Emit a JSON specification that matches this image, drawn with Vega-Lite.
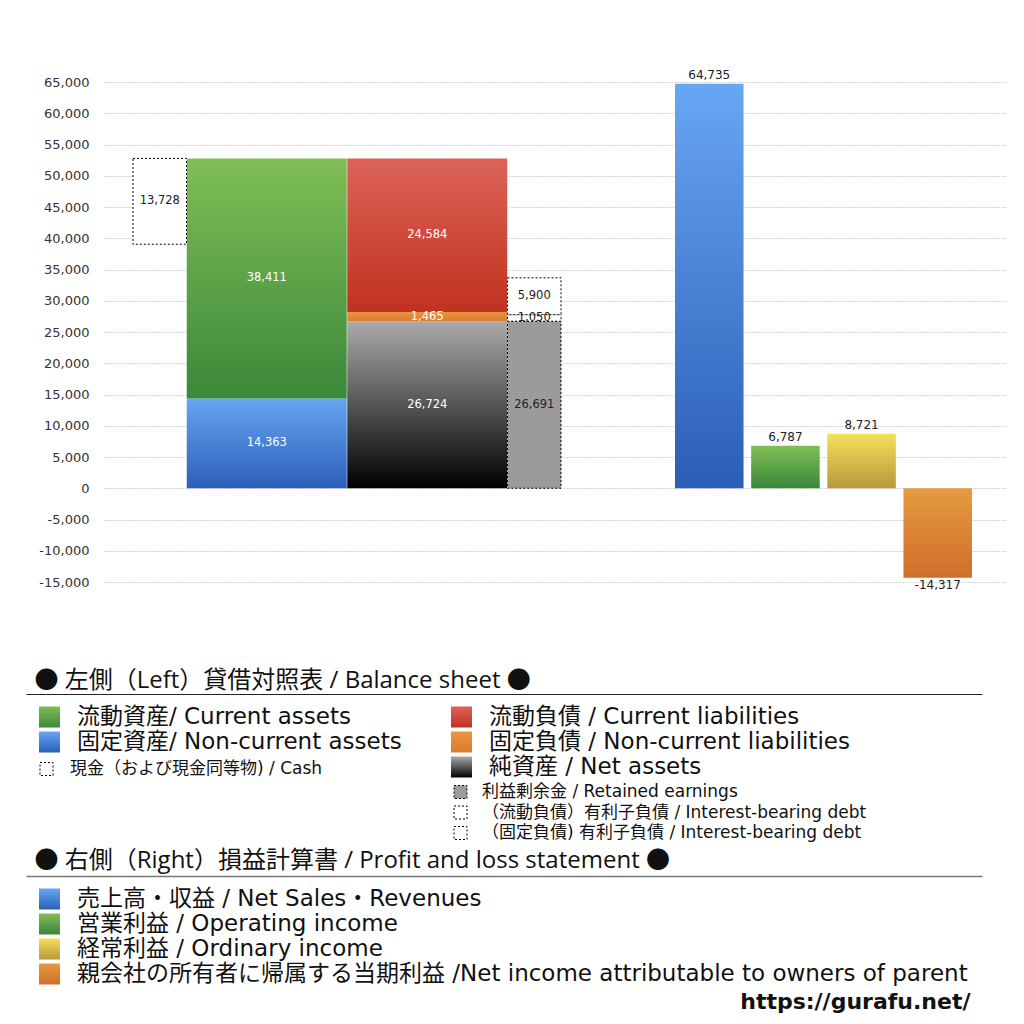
{
  "$schema": "https://vega.github.io/schema/vega-lite/v6.json",
  "width": 903,
  "height": 500,
  "autosize": {"type": "none"},
  "padding": {"left": 104, "top": 82, "right": 17, "bottom": 442},
  "background": "white",
  "config": {
    "font": "'DejaVu Sans', 'Noto Sans CJK JP'",
    "locale": {"number": {"decimal": ".", "thousands": ",", "grouping": [3], "currency": ["", ""], "minus": "-"}},
    "view": {"stroke": null},
    "axisY": {"tickCount": 16, "ticks": false, "domain": false, "labelPadding": 15, "labelFontSize": 13, "labelColor": "#333", "gridDash": [1, 2], "gridColor": "#aaa", "gridWidth": 1}
  },
  "datasets": {
    "bs": [
      {"col": "assets", "item": "固定資産/ Non-current assets", "lo": 0, "hi": 14363, "value": 14363},
      {"col": "assets", "item": "流動資産/ Current assets", "lo": 14363, "hi": 52774, "value": 38411},
      {"col": "liab", "item": "純資産 / Net assets", "lo": 0, "hi": 26724, "value": 26724},
      {"col": "liab", "item": "固定負債 / Non-current liabilities", "lo": 26724, "hi": 28189, "value": 1465},
      {"col": "liab", "item": "流動負債 /  Current liabilities", "lo": 28189, "hi": 52773, "value": 24584},
      {"col": "cash", "item": "現金（および現金同等物) / Cash", "lo": 39046, "hi": 52774, "value": 13728},
      {"col": "retained", "item": "利益剰余金 / Retained earnings", "lo": 0, "hi": 26691, "value": 26691},
      {"col": "retained", "item": "（固定負債) 有利子負債 / Interest-bearing debt", "lo": 26724, "hi": 27774, "value": 1050},
      {"col": "retained", "item": "（流動負債）有利子負債 / Interest-bearing debt", "lo": 27774, "hi": 33674, "value": 5900}
    ],
    "pl": [
      {"col": "sales", "item": "売上高・収益 / Net Sales・Revenues", "value": 64735},
      {"col": "op", "item": "営業利益 / Operating income", "value": 6787},
      {"col": "ord", "item": "経常利益 / Ordinary income", "value": 8721},
      {"col": "net", "item": "親会社の所有者に帰属する当期利益 /Net income attributable to owners of parent", "value": -14317}
    ]
  },
  "resolve": {"scale": {"x": "independent", "fill": "independent"}},
  "layer": [
    {
      "data": {"name": "pl"},
      "mark": {"type": "point", "opacity": 0},
      "encoding": {
        "x": {"field": "col", "type": "nominal", "axis": null, "scale": {"type": "point", "domain": ["sales", "op", "ord", "net"], "range": [0, 903]}},
        "y": {"field": "value", "type": "quantitative", "title": null, "scale": {"domain": [-15000, 65000], "nice": false, "zero": false}}
      }
    },
    {
      "data": {"name": "bs"},
      "transform": [{"filter": "datum.col === 'assets'"}],
      "mark": {"type": "bar", "width": 160},
      "encoding": {
        "x": {"field": "col", "type": "nominal", "axis": null, "scale": {"type": "band", "domain": ["cash", "s1", "assets", "s3", "s4", "liab", "s6", "retained"], "range": [29, 457], "paddingInner": 0, "paddingOuter": 0}},
        "y": {"field": "lo", "type": "quantitative", "title": null, "scale": {"domain": [-15000, 65000], "nice": false, "zero": false}},
        "y2": {"field": "hi"},
        "fill": {
          "field": "item", "type": "nominal",
          "scale": {
            "domain": ["流動資産/ Current assets", "固定資産/ Non-current assets"],
            "range": [
              {"signal": "{gradient: 'linear', x1: 0, y1: 0, x2: 0, y2: 1, stops: [{offset: 0, color: '#80be56'}, {offset: 1, color: '#3b883a'}]}"},
              {"signal": "{gradient: 'linear', x1: 0, y1: 0, x2: 0, y2: 1, stops: [{offset: 0, color: '#67a5f2'}, {offset: 1, color: '#2c5fb7'}]}"}
            ]
          },
          "legend": {"orient": "none", "legendX": -66, "legendY": 623.5, "direction": "vertical", "title": null, "padding": 0, "symbolType": "square", "symbolSize": 441, "symbolStrokeWidth": 0, "labelFontSize": 23, "labelOffset": 16, "labelLimit": 1000, "rowPadding": 1, "labelColor": "#111"}
        }
      }
    },
    {
      "data": {"name": "bs"},
      "transform": [{"filter": "datum.col === 'liab'"}],
      "mark": {"type": "bar", "width": 160},
      "encoding": {
        "x": {"field": "col", "type": "nominal", "axis": null, "scale": {"type": "band", "domain": ["cash", "s1", "assets", "s3", "s4", "liab", "s6", "retained"], "range": [29, 457], "paddingInner": 0, "paddingOuter": 0}},
        "y": {"field": "lo", "type": "quantitative", "title": null, "scale": {"domain": [-15000, 65000], "nice": false, "zero": false}},
        "y2": {"field": "hi"},
        "fill": {
          "field": "item", "type": "nominal",
          "scale": {
            "domain": ["流動負債 /  Current liabilities", "固定負債 / Non-current liabilities", "純資産 / Net assets"],
            "range": [
              {"signal": "{gradient: 'linear', x1: 0, y1: 0, x2: 0, y2: 1, stops: [{offset: 0, color: '#dd6358'}, {offset: 1, color: '#c0321f'}]}"},
              {"signal": "{gradient: 'linear', x1: 0, y1: 0, x2: 0, y2: 1, stops: [{offset: 0, color: '#ea9440'}, {offset: 1, color: '#dc7c2e'}]}"},
              {"signal": "{gradient: 'linear', x1: 0, y1: 0, x2: 0, y2: 1, stops: [{offset: 0, color: '#aaaaaa'}, {offset: 1, color: '#000000'}]}"}
            ]
          },
          "legend": {"orient": "none", "legendX": 346, "legendY": 623.5, "direction": "vertical", "title": null, "padding": 0, "symbolType": "square", "symbolSize": 441, "symbolStrokeWidth": 0, "labelFontSize": 23, "labelOffset": 16, "labelLimit": 1000, "rowPadding": 1, "labelColor": "#111"}
        }
      }
    },
    {
      "data": {"name": "bs"},
      "transform": [{"filter": "datum.col === 'cash'"}],
      "mark": {"type": "bar", "stroke": "#000", "strokeWidth": 1, "strokeDash": [2, 2]},
      "encoding": {
        "x": {"field": "col", "type": "nominal", "axis": null, "scale": {"type": "band", "domain": ["cash", "s1", "assets", "s3", "s4", "liab", "s6", "retained"], "range": [29, 457], "paddingInner": 0, "paddingOuter": 0}},
        "y": {"field": "lo", "type": "quantitative", "title": null, "scale": {"domain": [-15000, 65000], "nice": false, "zero": false}},
        "y2": {"field": "hi"},
        "fill": {
          "field": "item", "type": "nominal",
          "scale": {"domain": ["現金（および現金同等物) / Cash"], "range": ["white"]},
          "legend": {"orient": "none", "legendX": -66, "legendY": 678.5, "direction": "vertical", "title": null, "padding": 0, "symbolType": "square", "symbolSize": 169, "symbolStrokeColor": "#000", "symbolStrokeWidth": 1, "symbolDash": [2, 2], "labelFontSize": 17, "labelOffset": 15, "labelLimit": 1000, "labelColor": "#111"}
        }
      }
    },
    {
      "data": {"name": "bs"},
      "transform": [{"filter": "datum.col === 'retained'"}],
      "mark": {"type": "bar", "stroke": "#000", "strokeWidth": 1, "strokeDash": [2, 2]},
      "encoding": {
        "x": {"field": "col", "type": "nominal", "axis": null, "scale": {"type": "band", "domain": ["cash", "s1", "assets", "s3", "s4", "liab", "s6", "retained"], "range": [29, 457], "paddingInner": 0, "paddingOuter": 0}},
        "y": {"field": "lo", "type": "quantitative", "title": null, "scale": {"domain": [-15000, 65000], "nice": false, "zero": false}},
        "y2": {"field": "hi"},
        "fill": {
          "field": "item", "type": "nominal",
          "scale": {"domain": ["利益剰余金 / Retained earnings", "（流動負債）有利子負債 / Interest-bearing debt", "（固定負債) 有利子負債 / Interest-bearing debt"], "range": ["#9b9b9b", "white", "white"]},
          "legend": {"orient": "none", "legendX": 348, "legendY": 701.5, "direction": "vertical", "title": null, "padding": 0, "symbolType": "square", "symbolSize": 169, "symbolStrokeColor": "#000", "symbolStrokeWidth": 1, "symbolDash": [2, 2], "labelFontSize": 17, "labelOffset": 13, "labelLimit": 1000, "rowPadding": 2.5, "labelColor": "#111"}
        }
      }
    },
    {
      "data": {"name": "pl"},
      "mark": {"type": "bar"},
      "encoding": {
        "x": {
          "field": "col", "type": "nominal",
          "scale": {"type": "band", "domain": ["sales", "op", "ord", "net"], "range": [571, 868], "paddingInner": 0.1, "paddingOuter": 0},
          "axis": {"orient": "bottom", "domain": false, "labels": false, "ticks": false, "grid": false, "title": "https://gurafu.net/", "titleX": 866, "titleY": 419, "titleAlign": "right", "titleBaseline": "middle", "titleFontSize": 22, "titleFontWeight": "bold", "titleColor": "#111"}
        },
        "y": {"field": "value", "type": "quantitative", "title": null, "scale": {"domain": [-15000, 65000], "nice": false, "zero": false}},
        "fill": {
          "field": "item", "type": "nominal",
          "scale": {
            "domain": ["売上高・収益 / Net Sales・Revenues", "営業利益 / Operating income", "経常利益 / Ordinary income", "親会社の所有者に帰属する当期利益 /Net income attributable to owners of parent"],
            "range": [
              {"signal": "{gradient: 'linear', x1: 0, y1: 0, x2: 0, y2: 1, stops: [{offset: 0, color: '#68a6f3'}, {offset: 1, color: '#2b5eb6'}]}"},
              {"signal": "{gradient: 'linear', x1: 0, y1: 0, x2: 0, y2: 1, stops: [{offset: 0, color: '#80be56'}, {offset: 1, color: '#3a873a'}]}"},
              {"signal": "{gradient: 'linear', x1: 0, y1: 0, x2: 0, y2: 1, stops: [{offset: 0, color: '#f5e05a'}, {offset: 1, color: '#b7983a'}]}"},
              {"signal": "{gradient: 'linear', x1: 0, y1: 0, x2: 0, y2: 1, stops: [{offset: 0, color: '#e69b3f'}, {offset: 1, color: '#cf6e2b'}]}"}
            ]
          },
          "legend": {"orient": "none", "legendX": -66, "legendY": 805.5, "direction": "vertical", "title": null, "padding": 0, "symbolType": "square", "symbolSize": 441, "symbolStrokeWidth": 0, "labelFontSize": 23, "labelOffset": 16, "labelLimit": 1000, "rowPadding": 1, "labelColor": "#111"}
        }
      }
    },
    {
      "data": {"name": "bs"},
      "transform": [{"calculate": "(datum.lo + datum.hi) / 2", "as": "mid"}],
      "mark": {"type": "text", "fontSize": 11.5},
      "encoding": {
        "x": {"field": "col", "type": "nominal", "axis": null, "scale": {"type": "band", "domain": ["cash", "s1", "assets", "s3", "s4", "liab", "s6", "retained"], "range": [29, 457], "paddingInner": 0, "paddingOuter": 0}},
        "y": {"field": "mid", "type": "quantitative", "title": null, "scale": {"domain": [-15000, 65000], "nice": false, "zero": false}},
        "text": {"field": "value", "type": "quantitative", "format": ","},
        "color": {"condition": {"test": "datum.col === 'cash' || datum.col === 'retained'", "value": "#222"}, "value": "white"}
      }
    },
    {
      "data": {"name": "pl"},
      "transform": [{"filter": "datum.value >= 0"}],
      "mark": {"type": "text", "fontSize": 12, "baseline": "bottom", "dy": -2, "color": "#222"},
      "encoding": {
        "x": {"field": "col", "type": "nominal", "axis": null, "scale": {"type": "band", "domain": ["sales", "op", "ord", "net"], "range": [571, 868], "paddingInner": 0.1, "paddingOuter": 0}},
        "y": {"field": "value", "type": "quantitative", "title": null, "scale": {"domain": [-15000, 65000], "nice": false, "zero": false}},
        "text": {"field": "value", "type": "quantitative", "format": ","}
      }
    },
    {
      "data": {"name": "pl"},
      "transform": [{"filter": "datum.value < 0"}],
      "mark": {"type": "text", "fontSize": 12, "baseline": "top", "dy": 2, "color": "#222"},
      "encoding": {
        "x": {"field": "col", "type": "nominal", "axis": null, "scale": {"type": "band", "domain": ["sales", "op", "ord", "net"], "range": [571, 868], "paddingInner": 0.1, "paddingOuter": 0}},
        "y": {"field": "value", "type": "quantitative", "title": null, "scale": {"domain": [-15000, 65000], "nice": false, "zero": false}},
        "text": {"field": "value", "type": "quantitative", "format": ","}
      }
    },
    {
      "data": {"name": "pl"},
      "mark": {"type": "point", "opacity": 0},
      "encoding": {
        "x": {
          "field": "col", "type": "nominal",
          "scale": {"type": "point", "domain": ["sales", "op", "ord", "net"], "range": [-78, 878]},
          "axis": {"orient": "bottom", "offset": 112, "domain": true, "domainColor": "#222", "domainWidth": 1, "labels": false, "ticks": false, "grid": false, "title": "● 左側（Left）貸借対照表 / Balance sheet ●", "titleX": -70, "titleY": -14, "titleAlign": "left", "titleBaseline": "middle", "titleFont": "'Open Sans', 'Noto Sans CJK JP'", "titleFontSize": 24, "titleFontWeight": "normal", "titleColor": "#111"}
        }
      }
    },
    {
      "data": {"name": "pl"},
      "mark": {"type": "point", "opacity": 0},
      "encoding": {
        "x": {
          "field": "col", "type": "nominal",
          "scale": {"type": "point", "domain": ["sales", "op", "ord", "net"], "range": [-78, 878]},
          "axis": {"orient": "bottom", "offset": 294, "domain": true, "domainColor": "#777", "domainWidth": 1.5, "labels": false, "ticks": false, "grid": false, "title": "● 右側（Right）損益計算書 / Profit and loss statement ●", "titleX": -70, "titleY": -16, "titleAlign": "left", "titleBaseline": "middle", "titleFont": "'Open Sans', 'Noto Sans CJK JP'", "titleFontSize": 24, "titleFontWeight": "normal", "titleColor": "#111"}
        }
      }
    }
  ]
}
